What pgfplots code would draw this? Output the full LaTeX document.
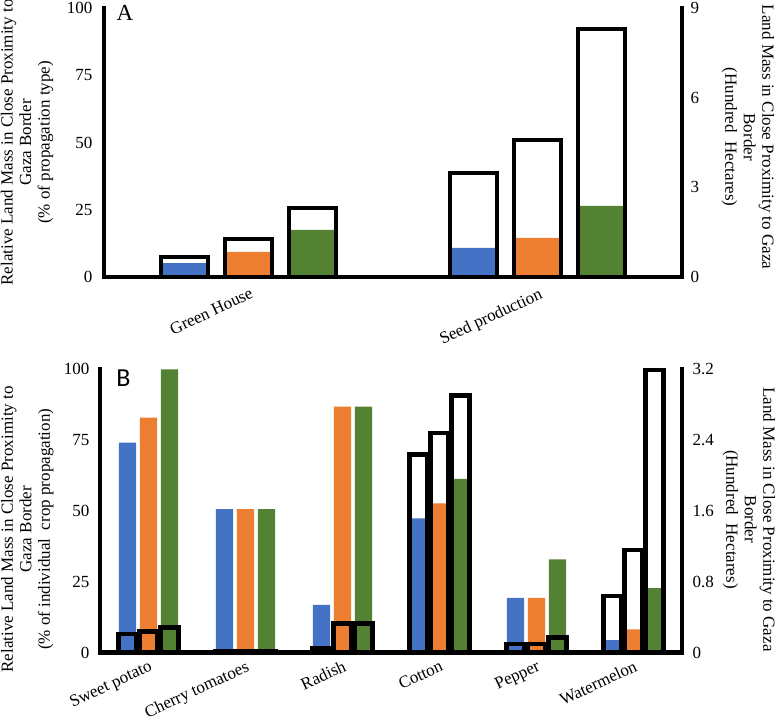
\documentclass[border=0pt]{standalone}
\usepackage{fontspec}
\setmainfont{Liberation Serif}
\newfontfamily\carlito{Carlito}
\usepackage{pgfplots}
\pgfplotsset{compat=1.18}
\definecolor{cblue}{RGB}{68,114,196}
\definecolor{corange}{RGB}{237,125,49}
\definecolor{cgreen}{RGB}{84,130,53}
\pgfplotsset{
 base/.style={scale only axis, enlargelimits=false, clip=false,
   axis line style={-, line width=4.5pt, line cap=rect},
   major tick length=0pt, tick style={draw=none},
   /pgf/number format/assume math mode=true,
   tick label style={font=\fontsize{17}{20}\selectfont},
   label style={font=\fontsize{17}{18.5}\selectfont, align=center},
 },
 cbar/.style={ybar, draw=none, fill=#1},
 obar/.style={ybar, draw=black, fill=none, line width=4.5pt},
}
\begin{document}
\begin{tikzpicture}
\useasboundingbox (0,0) rectangle (777pt,721pt);
% ---------------- Panel A ----------------
\begin{axis}[base, at={(104pt,444pt)}, anchor=south west, width=578pt, height=269pt,
 xmin=-0.5, xmax=1.5, ymin=0, ymax=100, axis x line*=bottom, axis y line*=left,
 xtick={0,1}, xticklabels={Green House, Seed production},
 xticklabel style={rotate=25, anchor=north east, yshift=-6pt},
 ytick={0,25,50,75,100}, yticklabel style={xshift=-8pt},
 ylabel={Relative Land Mass in Close Proximity to\\Gaza Border\\(\% of propagation type)},
 ylabel style={at={(axis description cs:-0.133,0.5)}, anchor=center},
]
\addplot[cbar=cblue, bar width=0.163, bar shift=-0.2215] coordinates {(0,5.2) (1,10.8)};
\addplot[cbar=corange, bar width=0.163, bar shift=0] coordinates {(0,9.3) (1,14.5)};
\addplot[cbar=cgreen, bar width=0.163, bar shift=0.2215] coordinates {(0,17.5) (1,26.4)};
\node[anchor=base west, font=\fontsize{23}{23}\selectfont] at (axis description cs:0.0156,0.955) {A};
\end{axis}
\begin{axis}[base, at={(104pt,444pt)}, anchor=south west, width=578pt, height=269pt,
 xmin=-0.5, xmax=1.5, ymin=0, ymax=9, axis x line=none, axis y line*=right,
 xtick=\empty, ytick={0,3,6,9}, yticklabel style={xshift=5pt},
 ylabel={Land Mass in Close Proximity to Gaza\\Border\\(Hundred~~Hectares)},
 ylabel style={at={(axis description cs:1.114,0.52)}, anchor=center, rotate=180},
]
\addplot[obar, bar width=0.163, bar shift=-0.2215] coordinates {(0,0.67) (1,3.48)};
\addplot[obar, bar width=0.163, bar shift=0] coordinates {(0,1.27) (1,4.58)};
\addplot[obar, bar width=0.163, bar shift=0.2215] coordinates {(0,2.31) (1,8.30)};
\end{axis}
% ---------------- Panel B ----------------
\begin{axis}[base, at={(100pt,68.5pt)}, anchor=south west, width=582pt, height=283.2pt,
 xmin=-0.5, xmax=5.5, ymin=0, ymax=100, axis x line*=bottom, axis y line*=left,
 xtick={0,1,2,3,4,5}, xticklabels={Sweet potato, Cherry tomatoes, Radish, Cotton, Pepper, Watermelon},
 xticklabel style={rotate=25, anchor=north east, yshift=-3pt},
 ytick={0,25,50,75,100}, yticklabel style={xshift=-7pt},
 ylabel={Relative Land Mass in Close Proximity to\\Gaza Border\\(\% of individual~~crop propagation)},
 ylabel style={at={(axis description cs:-0.125,0.435)}, anchor=center},
]
\addplot[cbar=cblue, bar width=0.178, bar shift=-0.2165] coordinates {(0,74.1) (1,50.6) (2,16.8) (3,47.4) (4,19.3) (5,4.4)};
\addplot[cbar=corange, bar width=0.178, bar shift=0] coordinates {(0,82.9) (1,50.6) (2,86.8) (3,52.7) (4,19.3) (5,8.2)};
\addplot[cbar=cgreen, bar width=0.178, bar shift=0.2165] coordinates {(0,100) (1,50.6) (2,86.8) (3,61.3) (4,32.9) (5,22.7)};
\node[anchor=base west, font=\carlito\fontsize{26}{26}\selectfont] at (axis description cs:0.022,0.938) {B};
\end{axis}
\begin{axis}[base, at={(100pt,68.5pt)}, anchor=south west, width=582pt, height=283.2pt,
 xmin=-0.5, xmax=5.5, ymin=0, ymax=3.2, axis x line=none, axis y line*=right,
 xtick=\empty, ytick={0,0.8,1.6,2.4,3.2}, yticklabel style={xshift=7pt},
 ylabel={Land Mass in Close Proximity to Gaza\\Border\\(Hundred~~Hectares)},
 ylabel style={at={(axis description cs:1.115,0.47)}, anchor=center, rotate=180},
]
\addplot[obar, bar width=0.19, bar shift=-0.2165] coordinates {(0,0.21) (1,0.01) (2,0.05) (3,2.24) (4,0.096) (5,0.64)};
\addplot[obar, bar width=0.19, bar shift=0] coordinates {(0,0.235) (1,0.01) (2,0.33) (3,2.48) (4,0.096) (5,1.16)};
\addplot[obar, bar width=0.19, bar shift=0.2165] coordinates {(0,0.28) (1,0.01) (2,0.33) (3,2.905) (4,0.17) (5,3.19)};
\end{axis}
\end{tikzpicture}
\end{document}
